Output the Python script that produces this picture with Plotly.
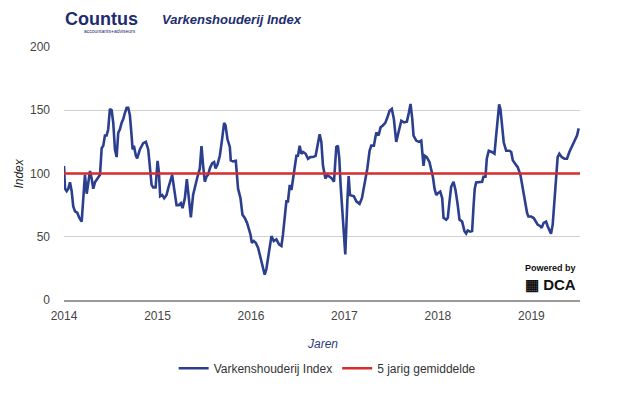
import plotly.graph_objects as go

# Decimal-year time stamps and index values
years = [
    2014.000, 2014.011, 2014.029, 2014.046, 2014.064, 2014.082, 2014.099, 2014.118, 2014.142, 2014.163,
    2014.189, 2014.206, 2014.224, 2014.243, 2014.260, 2014.278, 2014.296, 2014.313, 2014.331, 2014.366,
    2014.385, 2014.403, 2014.420, 2014.438, 2014.456, 2014.473, 2014.491, 2014.510, 2014.527, 2014.545,
    2014.563, 2014.580, 2014.598, 2014.616, 2014.634, 2014.652, 2014.670, 2014.687, 2014.705, 2014.723,
    2014.734, 2014.748, 2014.769, 2014.783, 2014.812, 2014.847, 2014.876, 2014.901, 2014.919, 2014.937,
    2014.954, 2014.980, 2015.001, 2015.015, 2015.029, 2015.050, 2015.072, 2015.097, 2015.114, 2015.143,
    2015.157, 2015.178, 2015.204, 2015.229, 2015.250, 2015.268, 2015.293, 2015.314, 2015.335, 2015.357,
    2015.381, 2015.407, 2015.428, 2015.453, 2015.471, 2015.488, 2015.506, 2015.524, 2015.542, 2015.560,
    2015.584, 2015.606, 2015.621, 2015.642, 2015.667, 2015.691, 2015.713, 2015.728, 2015.749, 2015.774,
    2015.784, 2015.809, 2015.838, 2015.862, 2015.888, 2015.909, 2015.934, 2015.958, 2015.980, 2015.995,
    2016.009, 2016.030, 2016.051, 2016.076, 2016.094, 2016.112, 2016.129, 2016.147, 2016.165, 2016.183,
    2016.201, 2016.219, 2016.244, 2016.272, 2016.300, 2016.326, 2016.343, 2016.361, 2016.379, 2016.396,
    2016.415, 2016.433, 2016.450, 2016.468, 2016.486, 2016.503, 2016.521, 2016.539, 2016.557, 2016.585,
    2016.610, 2016.636, 2016.664, 2016.692, 2016.717, 2016.735, 2016.753, 2016.770, 2016.796, 2016.817,
    2016.842, 2016.866, 2016.888, 2016.913, 2016.930, 2016.945, 2016.959, 2016.984, 2017.009, 2017.031,
    2017.045, 2017.059, 2017.080, 2017.101, 2017.127, 2017.162, 2017.187, 2017.216, 2017.245, 2017.269,
    2017.287, 2017.315, 2017.341, 2017.365, 2017.387, 2017.411, 2017.437, 2017.458, 2017.483, 2017.507,
    2017.529, 2017.554, 2017.579, 2017.608, 2017.636, 2017.668, 2017.689, 2017.707, 2017.726, 2017.739,
    2017.768, 2017.796, 2017.822, 2017.833, 2017.846, 2017.860, 2017.881, 2017.910, 2017.928, 2017.946,
    2017.964, 2017.982, 2018.000, 2018.025, 2018.046, 2018.060, 2018.089, 2018.106, 2018.124, 2018.142,
    2018.167, 2018.188, 2018.212, 2018.231, 2018.259, 2018.284, 2018.302, 2018.319, 2018.345, 2018.366,
    2018.380, 2018.394, 2018.409, 2018.444, 2018.473, 2018.487, 2018.509, 2018.523, 2018.544, 2018.576,
    2018.605, 2018.623, 2018.640, 2018.655, 2018.669, 2018.683, 2018.704, 2018.730, 2018.765, 2018.784,
    2018.801, 2018.826, 2018.854, 2018.883, 2018.907, 2018.933, 2018.954, 2018.968, 2018.997, 2019.025,
    2019.050, 2019.067, 2019.096, 2019.110, 2019.131, 2019.157, 2019.174, 2019.192, 2019.210, 2019.228,
    2019.246, 2019.264, 2019.281, 2019.299, 2019.324, 2019.353, 2019.381, 2019.406, 2019.431, 2019.452,
    2019.467, 2019.488, 2019.506,
]
index_values = [
    106, 88, 86, 88, 93, 86, 74, 70, 69, 65,
    62, 80, 99, 84, 95, 102, 96, 88, 93, 97,
    99, 120, 122, 130, 130, 135, 151, 150, 140, 119,
    113, 132, 135, 140, 143, 148, 152, 152, 146, 130,
    119, 122, 114, 112, 119, 124, 125, 119, 104, 91,
    89, 89, 110, 101, 82, 83, 80.5, 83, 88, 96,
    99, 88, 75, 75, 76.5, 72.6, 80.5, 95.6, 83, 65.4,
    83, 92, 97.4, 104, 121.6, 106.5, 93.5, 97.4, 99, 104,
    108, 109, 104, 107, 114, 127, 140, 138, 127, 121,
    110.4, 109.6, 110, 88, 80.5, 67.4, 64.8, 61, 55.7, 51.8,
    45.3, 46.6, 45.3, 41.4, 36, 31, 26, 20, 24.5, 33.6,
    44, 50.5, 46.6, 48, 44, 42.7, 52, 67.4, 78, 78,
    91, 87, 96, 106.5, 114, 114, 122, 115.6, 117, 115.6,
    111.7, 113, 113, 114, 125, 131, 125, 106.5, 96, 98.7,
    97.4, 96, 93.5, 121, 122, 112, 91, 65, 36, 78,
    98, 83, 82.5, 82, 78, 76, 80.5, 91, 104, 118,
    122, 122, 132.5, 130, 136.5, 138, 140, 144, 149.5, 151,
    143, 125, 132.5, 141.7, 140.4, 141, 148, 155, 143, 130,
    126, 125, 126, 119, 106, 114, 113, 109, 104, 97.4,
    88, 83, 84.4, 85.7, 80.5, 65, 63.5, 65, 78, 89.6,
    93.5, 87, 75, 63.5, 62, 54.4, 52.6, 55, 54, 54.5,
    72.7, 88, 93, 93, 93.5, 97.4, 97.4, 111.7, 118, 117,
    115.6, 130, 145.6, 154.7, 150.8, 137.7, 124.7, 118, 118, 117,
    110.4, 107.8, 105, 98.7, 88.3, 78, 68.7, 66, 66, 64.8,
    61, 59.6, 58.3, 57, 61, 62, 58.3, 55.7, 52.3, 59.6,
    80.5, 101, 113, 115.6, 113, 111.7, 111.7, 117, 120.8, 124.7,
    127.3, 130, 135.7,
]
avg_years = [2014.0, 2019.52]
avg_values = [100, 100]

tick_years = [2014, 2015, 2016, 2017, 2018, 2019]
tick_labels = ["2014", "2015", "2016", "2017", "2018", "2019"]

navy = "#1d2c6e"
blue = "#2c3f8f"
red = "#d62c2c"

fig = go.Figure()
fig.add_trace(go.Scatter(x=years, y=index_values, mode="lines",
                         name="Varkenshouderij Index",
                         line=dict(color=blue, width=2.6)))
fig.add_trace(go.Scatter(x=avg_years, y=avg_values, mode="lines",
                         name="5 jarig gemiddelde",
                         line=dict(color=red, width=2.4)))

# page body has an 8px margin; compensate so the plot lands where the reference has it
fig.update_layout(
    width=617, height=387,
    margin=dict(l=56, r=45, t=39, b=90),
    paper_bgcolor="white", plot_bgcolor="white",
    font=dict(family="Liberation Sans, Arial, sans-serif", size=12, color="#444"),
    showlegend=True,
    legend=dict(orientation="h", x=0.51, xanchor="center", y=-0.27, yanchor="middle",
                font=dict(size=12, color="#333"), itemwidth=30, tracegroupgap=0),
    xaxis=dict(range=[2014, 2019.52], tickmode="array", tickvals=tick_years,
               ticktext=tick_labels, showgrid=False, zeroline=False,
               showline=True, linecolor="#999", linewidth=1.5, ticks="",
               tickfont=dict(size=12, color="#444"), ticklabelstandoff=4),
    yaxis=dict(range=[0, 200], tickvals=[0, 50, 100, 150, 200], showgrid=True,
               gridcolor="#d0d0d0", gridwidth=1, zeroline=False, ticks="",
               tickfont=dict(size=12, color="#444"), ticklabelstandoff=13),
)

annotations = [
    dict(text="<i>Jaren</i>", x=0.5, y=-0.172, xref="paper", yref="paper",
         showarrow=False, font=dict(size=12, color="#2c3a80"), xanchor="center", yanchor="middle"),
    dict(text="<i>Index</i>", x=-0.089, y=0.5, xref="paper", yref="paper", textangle=-90,
         showarrow=False, font=dict(size=12, color="#222"), xanchor="center", yanchor="middle"),
    dict(text="<b>Countus</b>", x=63, y=19, xref="paper", yref="paper",
         showarrow=False, font=dict(size=18, color=navy, family="Liberation Sans, Arial"),
         xanchor="left", yanchor="middle"),
    dict(text="<b><i>Varkenshouderij Index</i></b>", x=160, y=19, xref="paper", yref="paper",
         showarrow=False, font=dict(size=13, color=navy, family="Liberation Sans, Arial"),
         xanchor="left", yanchor="middle"),
    dict(text="accountants+adviseurs", x=110, y=31, xref="paper", yref="paper",
         showarrow=False, font=dict(size=5, color=navy), xanchor="center", yanchor="middle"),
    dict(text="<b>Powered by</b>", x=550, y=271, xref="paper", yref="paper",
         showarrow=False, font=dict(size=9, color="#111"), xanchor="center", yanchor="middle"),
    dict(text="<b>▦ DCA</b>", x=550, y=287, xref="paper", yref="paper",
         showarrow=False, font=dict(size=15, color="#111"), xanchor="center", yanchor="middle"),
]
# convert page-pixel positioned annotations to paper coordinates
plot_l, plot_r, plot_t, plot_b = 64, 580, 47, 303
for a in annotations[2:]:
    a["x"] = (a["x"] - plot_l) / (plot_r - plot_l)
    a["y"] = (plot_b - a["y"]) / (plot_b - plot_t)
fig.update_layout(annotations=annotations)

fig.write_html("out.html")
